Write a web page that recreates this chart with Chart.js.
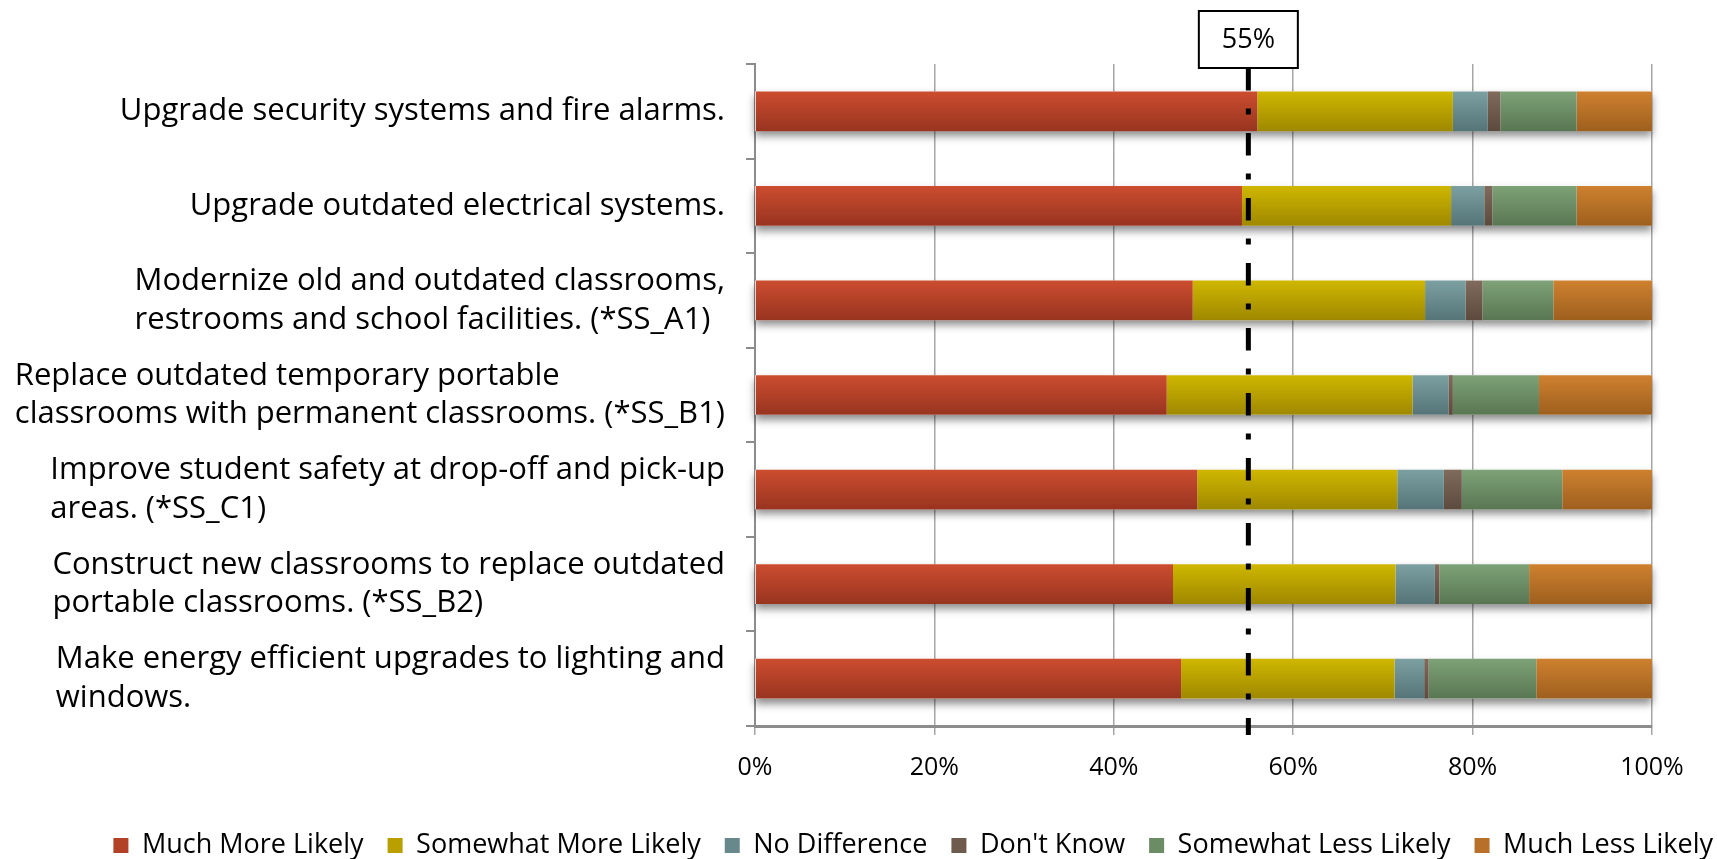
<!DOCTYPE html>
<html>
<head>
<meta charset="utf-8">
<script src="https://cdn.jsdelivr.net/npm/chart.js"></script>
<style>
  html, body { margin: 0; padding: 0; background: #fff; }
  #wrap { width: 1717px; height: 859px; }
</style>
</head>
<body>
<div id="wrap"><canvas id="chart" width="1717" height="859"></canvas></div>
<script>
// categories (top to bottom)
const categories = [
  ["Upgrade security systems and fire alarms."],
  ["Upgrade outdated electrical systems."],
  ["Modernize old and outdated classrooms,", "restrooms and school facilities. (*SS_A1)"],
  ["Replace outdated temporary portable", "classrooms with permanent classrooms. (*SS_B1)"],
  ["Improve student safety at drop-off and pick-up", "areas. (*SS_C1)"],
  ["Construct new classrooms to replace outdated", "portable classrooms. (*SS_B2)"],
  ["Make energy efficient upgrades to lighting and", "windows."],
];

const seriesNames = ["Much More Likely", "Somewhat More Likely", "No Difference", "Don't Know", "Somewhat Less Likely", "Much Less Likely"];

// percentages
const muchMore     = [56.0, 54.3, 48.8, 45.9, 49.3, 46.6, 47.5];
const somewhatMore = [21.8, 23.3, 25.9, 27.4, 22.3, 24.8, 23.8];
const noDifference = [3.9, 3.7, 4.5, 4.0, 5.2, 4.4, 3.3];
const dontKnow     = [1.4, 0.9, 1.9, 0.5, 2.0, 0.5, 0.5];
const somewhatLess = [8.5, 9.4, 7.9, 9.6, 11.2, 10.0, 12.0];
const muchLess     = [8.4, 8.4, 11.0, 12.6, 10.0, 13.7, 12.9];

const xTicks = [0, 20, 40, 60, 80, 100];
const threshold = 55;

// top / bottom colour of each series' gradient
const topColors = ["#CC4D2F", "#CFB700", "#7CA0A2", "#806B5D", "#7EA278", "#CE812F"];
const bottomColors = ["#983420", "#9E8800", "#557478", "#5C4A3E", "#587652", "#9E5F1E"];
const legendColors = ["#B34128", "#B9A000", "#68898C", "#6E5B4E", "#6B8C65", "#B87028"];

const FONT = "'Open Sans', sans-serif";
const BAR_PCT = 0.42;

function barGradient(i) {
  return function (ctx) {
    const chart = ctx.chart;
    const ys = chart.scales.y;
    if (!ys || ctx.dataIndex === undefined) return legendColors[i];
    const yc = ys.getPixelForValue(ctx.dataIndex);
    const half = (ys.height / categories.length) * BAR_PCT / 2;
    const g = chart.ctx.createLinearGradient(0, yc - half, 0, yc + half);
    g.addColorStop(0, topColors[i]);
    g.addColorStop(1, bottomColors[i]);
    return g;
  };
}

const seriesValues = [muchMore, somewhatMore, noDifference, dontKnow, somewhatLess, muchLess];

const datasets = seriesValues.map((vals, i) => ({
  label: seriesNames[i],
  data: vals,
  backgroundColor: barGradient(i),
  borderWidth: 0,
  barPercentage: BAR_PCT,
  categoryPercentage: 1.0,
}));

// soft shadow under each whole bar
const barShadow = {
  id: "barShadow",
  beforeDatasetsDraw(chart) {
    const { ctx, scales } = chart;
    const meta = chart.getDatasetMeta(0);
    ctx.save();
    ctx.shadowColor = "rgba(0,0,0,0.45)";
    ctx.shadowBlur = 8;
    ctx.shadowOffsetY = 5;
    ctx.fillStyle = "#fff";
    meta.data.forEach((el) => {
      const x0 = scales.x.getPixelForValue(0);
      const x1 = scales.x.getPixelForValue(100);
      ctx.fillRect(x0, el.y - el.height / 2, x1 - x0, el.height);
    });
    ctx.restore();
  },
};

// category labels: block right-aligned to the axis, lines left-aligned inside
const categoryLabels = {
  id: "categoryLabels",
  afterDraw(chart) {
    const { ctx, scales, chartArea } = chart;
    ctx.save();
    ctx.font = "31px " + FONT;
    ctx.fillStyle = "#000";
    ctx.textBaseline = "middle";
    ctx.textAlign = "left";
    const right = chartArea.left - 30;
    const lh = 38.5;
    categories.forEach((lines, i) => {
      const w = Math.max(...lines.map((l) => ctx.measureText(l).width));
      const yc = scales.y.getPixelForValue(i);
      lines.forEach((l, j) => {
        ctx.fillText(l, right - w, yc + (j - (lines.length - 1) / 2) * lh);
      });
    });
    ctx.restore();
  },
};

// dash-dot threshold line with its boxed label
const thresholdLine = {
  id: "thresholdLine",
  afterDatasetsDraw(chart) {
    const { ctx, scales, chartArea } = chart;
    const x = scales.x.getPixelForValue(threshold);
    const boxTop = 11, boxH = 57, boxW = 99;
    ctx.save();
    ctx.strokeStyle = "#000";
    ctx.lineWidth = 5;
    ctx.setLineDash([22.5, 18, 6, 18.5]);
    ctx.beginPath();
    ctx.moveTo(x, boxTop + boxH);
    ctx.lineTo(x, chartArea.bottom + 9);
    ctx.stroke();
    ctx.setLineDash([]);
    ctx.fillStyle = "#fff";
    ctx.fillRect(x - boxW / 2, boxTop, boxW, boxH);
    ctx.lineWidth = 2;
    ctx.strokeRect(x - boxW / 2, boxTop, boxW, boxH);
    ctx.fillStyle = "#000";
    ctx.font = "27px " + FONT;
    ctx.textAlign = "center";
    ctx.textBaseline = "middle";
    ctx.fillText(threshold + "%", x, boxTop + boxH / 2 + 1);
    ctx.restore();
  },
};

// nudge the legend row a little to the right, as in the original
const legendShift = {
  id: "legendShift",
  afterLayout(chart) {
    chart.legend.left += 20;
    chart.legend.right += 20;
  },
};

new Chart(document.getElementById("chart"), {
  type: "bar",
  data: { labels: categories.map((c) => c.join(" ")), datasets },
  options: {
    indexAxis: "y",
    responsive: false,
    animation: false,
    devicePixelRatio: 1,
    layout: { padding: { top: 64, left: 0, right: 0, bottom: -10 } },
    scales: {
      x: {
        stacked: true,
        min: 0,
        max: 100,
        afterBuildTicks(scale) {
          scale.ticks = xTicks.map((v) => ({ value: v }));
        },
        afterFit(scale) { scale.height = 82; },
        grid: { color: "#A6A6A6", lineWidth: 1.5, tickLength: 9 },
        border: { color: "#8C8C8C", width: 3 },
        ticks: {
          color: "#000",
          padding: 18,
          font: { family: FONT, size: 25 },
          callback: (v) => v + "%",
        },
      },
      y: {
        stacked: true,
        offset: true,
        grid: { display: true, drawOnChartArea: false, offset: true, color: "#8C8C8C", lineWidth: 2, tickLength: 9 },
        border: { color: "#8C8C8C", width: 2 },
        ticks: { display: false },
        afterFit(scale) { scale.width = 755; },
      },
      yRight: {
        type: "category",
        position: "right",
        labels: categories.map((c) => c.join(" ")),
        grid: { display: false },
        border: { display: false },
        ticks: { display: false },
        afterFit(scale) { scale.width = 65; },
      },
    },
    plugins: {
      legend: {
        position: "bottom",
        align: "end",
        labels: {
          font: { family: FONT, size: 27, lineHeight: 1.0 },
          color: "#000",
          boxWidth: 15,
          boxHeight: 15,
          padding: 24,
          generateLabels(chart) {
            return chart.data.datasets.map((ds, i) => ({
              text: ds.label,
              fillStyle: legendColors[i],
              strokeStyle: legendColors[i],
              lineWidth: 0,
              datasetIndex: i,
            }));
          },
        },
      },
      tooltip: { enabled: false },
    },
  },
  plugins: [barShadow, thresholdLine, categoryLabels, legendShift],
});
</script>
</body>
</html>
